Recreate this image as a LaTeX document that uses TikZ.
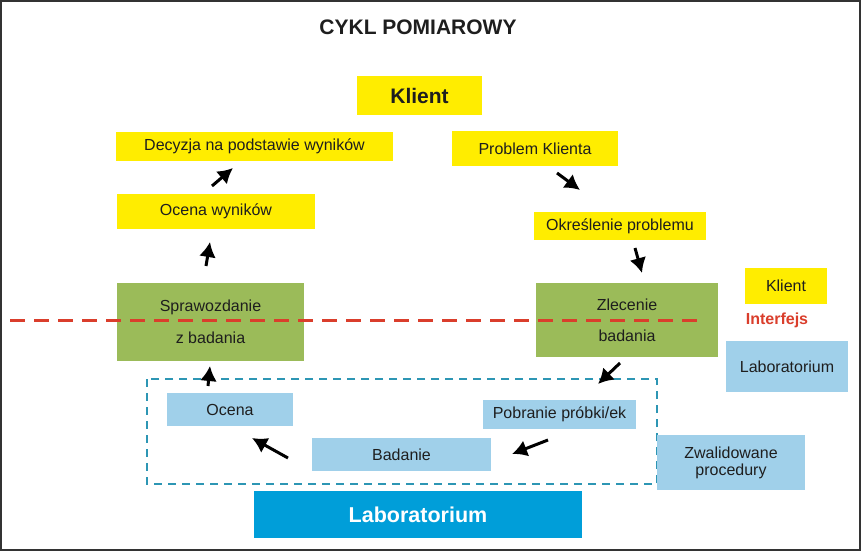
\documentclass[tikz,border=0pt]{standalone}
\usepackage{fontspec}
\setmainfont{Liberation Sans}
\usepackage{xcolor}
\usepackage{tikz}
\usetikzlibrary{arrows.meta, positioning}

\definecolor{kyellow}{RGB}{255,237,0}
\definecolor{kgreen}{RGB}{155,187,89}
\definecolor{lblue}{RGB}{160,208,234}
\definecolor{lbdark}{RGB}{0,158,217}
\definecolor{ifred}{RGB}{218,62,44}
\definecolor{dashblue}{RGB}{45,150,180}
\definecolor{txt}{RGB}{30,30,30}

\tikzset{
  ybox/.style={fill=kyellow, inner sep=0pt, text=txt, font=\fontsize{16}{17}\selectfont},
  gbox/.style={fill=kgreen, inner sep=0pt, text=txt, align=center, font=\fontsize{16}{17}\selectfont},
  bbox/.style={fill=lblue, inner sep=0pt, text=txt, align=center, font=\fontsize{16}{17}\selectfont},
  flow/.style={line width=3pt, -{Latex[length=15pt,width=17pt]}, black}
}

\begin{document}
\begin{tikzpicture}[x=1pt, y=-1pt]
    \useasboundingbox (0,0) rectangle (861,551);
    \draw[fill=white, draw=black!80, line width=2pt] (1,1) rectangle (860,550);

    \node[text=txt, font=\fontsize{21}{24}\selectfont\bfseries] (title) at (418,27) {CYKL POMIAROWY};

    % klient side
    \node[ybox, minimum width=125pt, minimum height=39pt, font=\fontsize{21}{24}\selectfont\bfseries] (klient) at (419.5,95.5) {Klient};
    \node[ybox, minimum width=277pt, minimum height=29pt] (decyzja) at (254.5,146.5) {Decyzja na podstawie wyników};
    \node[ybox, minimum width=198pt, minimum height=35pt] (ocenaw) at (216,211.5) {Ocena wyników};
    \node[ybox, minimum width=166pt, minimum height=35pt] (problem) at (535,148.5) {Problem Klienta};
    \node[ybox, minimum width=172pt, minimum height=28pt] (okreslenie) at (620,226) {Określenie problemu};

    % interfejs
    \node[gbox, minimum width=187pt, minimum height=78pt] (sprawozdanie) at (210.5,322) {Sprawozdanie\\[15pt]z badania};
    \node[gbox, minimum width=182pt, minimum height=74pt] (zlecenie) at (627,320) {Zlecenie\\[14pt]badania};
    \coordinate (lineL) at (10,320);
    \coordinate (lineR) at (698,320);
    \draw[ifred, line width=3pt, dash pattern=on 15pt off 9pt] (lineL) -- (lineR);

    % legenda
    \node[ybox, minimum width=82pt, minimum height=36pt] (legklient) at (786,286) {Klient};
    \node[text=ifred, font=\fontsize{16}{18}\selectfont\bfseries] (interfejs) at (777,320) {Interfejs};
    \node[bbox, minimum width=122pt, minimum height=51pt] (leglab) at (787,366.5) {Laboratorium};

    % laboratorium
    \draw[dashblue, line width=2pt, dash pattern=on 8pt off 6pt] (147,379) rectangle (657,484);
    \node[bbox, minimum width=126pt, minimum height=33pt] (ocena) at (230,409.5) {Ocena};
    \node[bbox, minimum width=153pt, minimum height=29pt] (pobranie) at (559.5,414.5) {Pobranie próbki/ek};
    \node[bbox, minimum width=179pt, minimum height=33pt] (badanie) at (401.5,454.5) {Badanie};
    \node[bbox, minimum width=148pt, minimum height=55pt] (procedury) at (731,462.5) {Zwalidowane\\procedury};
    \node[fill=lbdark, inner sep=0pt, minimum width=328pt, minimum height=47pt, text=white, font=\fontsize{21.5}{24}\selectfont\bfseries] (lab) at (418,514.5) {Laboratorium};

    % strzalki
    \coordinate (a1) at (212,186);  \coordinate (b1) at (233,168);
    \coordinate (a2) at (206,266);  \coordinate (b2) at (210,242);
    \coordinate (a3) at (208,386);  \coordinate (b3) at (210,366);
    \coordinate (a4) at (557,173);  \coordinate (b4) at (580,190);
    \coordinate (a5) at (635,248);  \coordinate (b5) at (642,273);
    \coordinate (a6) at (620,363);  \coordinate (b6) at (598,384);
    \coordinate (a7) at (548,440);  \coordinate (b7) at (512,454);
    \coordinate (a8) at (288,458);  \coordinate (b8) at (252,438);
    \foreach \i in {1,...,8}
      \draw[flow] (a\i) -- (b\i);
\end{tikzpicture}
\end{document}
